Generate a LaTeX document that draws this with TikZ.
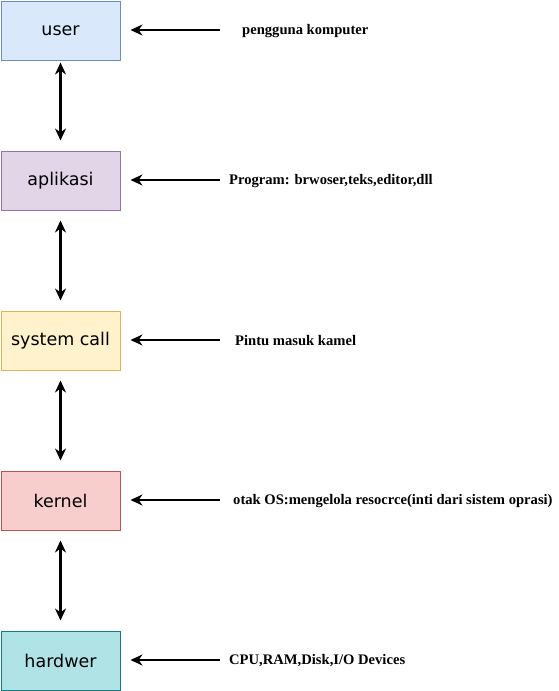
\documentclass[tikz,border=0pt]{standalone}
\usepackage{fontspec}
\setmainfont{Liberation Serif}
\newfontfamily\boxfont{DejaVu Sans}
\usetikzlibrary{arrows.meta}

\definecolor{userfill}{HTML}{DAE8FC}\definecolor{userline}{HTML}{6C8EBF}
\definecolor{appfill}{HTML}{E1D5E7}\definecolor{appline}{HTML}{9673A6}
\definecolor{callfill}{HTML}{FFF2CC}\definecolor{callline}{HTML}{D6B656}
\definecolor{kernfill}{HTML}{F8CECC}\definecolor{kernline}{HTML}{B85450}
\definecolor{hwfill}{HTML}{B0E3E6}\definecolor{hwline}{HTML}{0E8088}

\begin{document}
\begin{tikzpicture}[
  x=1pt, y=-1pt,
  >={Stealth[length=12pt,width=11pt]},
  layer/.style={draw, line width=1pt, minimum width=119pt, minimum height=59pt,
    inner sep=0pt, font=\boxfont\fontsize{17.5}{20}\selectfont},
  note/.style={anchor=west, inner sep=0pt, font=\bfseries\fontsize{14.6}{16}\selectfont},
  link/.style={<->, line width=2.6pt, shorten <=10pt, shorten >=10pt},
  point/.style={->, line width=2.6pt, shorten >=10pt}
]
\useasboundingbox (0,0) rectangle (558,691);

% layers, top to bottom
\node[layer, fill=userfill, draw=userline] (user) at (60.5,30.5) {user};
\node[layer, fill=appfill, draw=appline] (aplikasi) at (60.5,180.5) {aplikasi};
\node[layer, fill=callfill, draw=callline] (syscall) at (60.5,340.5) {system call};
\node[layer, fill=kernfill, draw=kernline] (kernel) at (60.5,500.5) {kernel};
\node[layer, fill=hwfill, draw=hwline] (hardwer) at (60.5,660.5) {hardwer};

% descriptions
\node[note] (n-user) at (242,31) {pengguna komputer};
\node[note] (n-aplikasi) at (229,181) {Program: brwoser,teks,editor,dll};
\node[note] (n-syscall) at (235,341) {Pintu masuk kamel};
\node[note] (n-kernel) at (233,501) {otak OS:mengelola resocrce(inti dari sistem oprasi)};
\node[note] (n-hardwer) at (229,661) {CPU,RAM,Disk,I/O Devices};

% arrows from descriptions
\foreach \b/\y in {user/30, aplikasi/180, syscall/340, kernel/500, hardwer/660} {
  \coordinate (t-\b) at (220,\y);
  \draw[point] (t-\b) -- (\b.east |- t-\b);
}

% arrows between layers
\draw[link, shorten <=2pt] (user) -- (aplikasi);
\foreach \a/\b in {aplikasi/syscall, syscall/kernel, kernel/hardwer} {
  \draw[link] (\a) -- (\b);
}

\end{tikzpicture}
\end{document}
